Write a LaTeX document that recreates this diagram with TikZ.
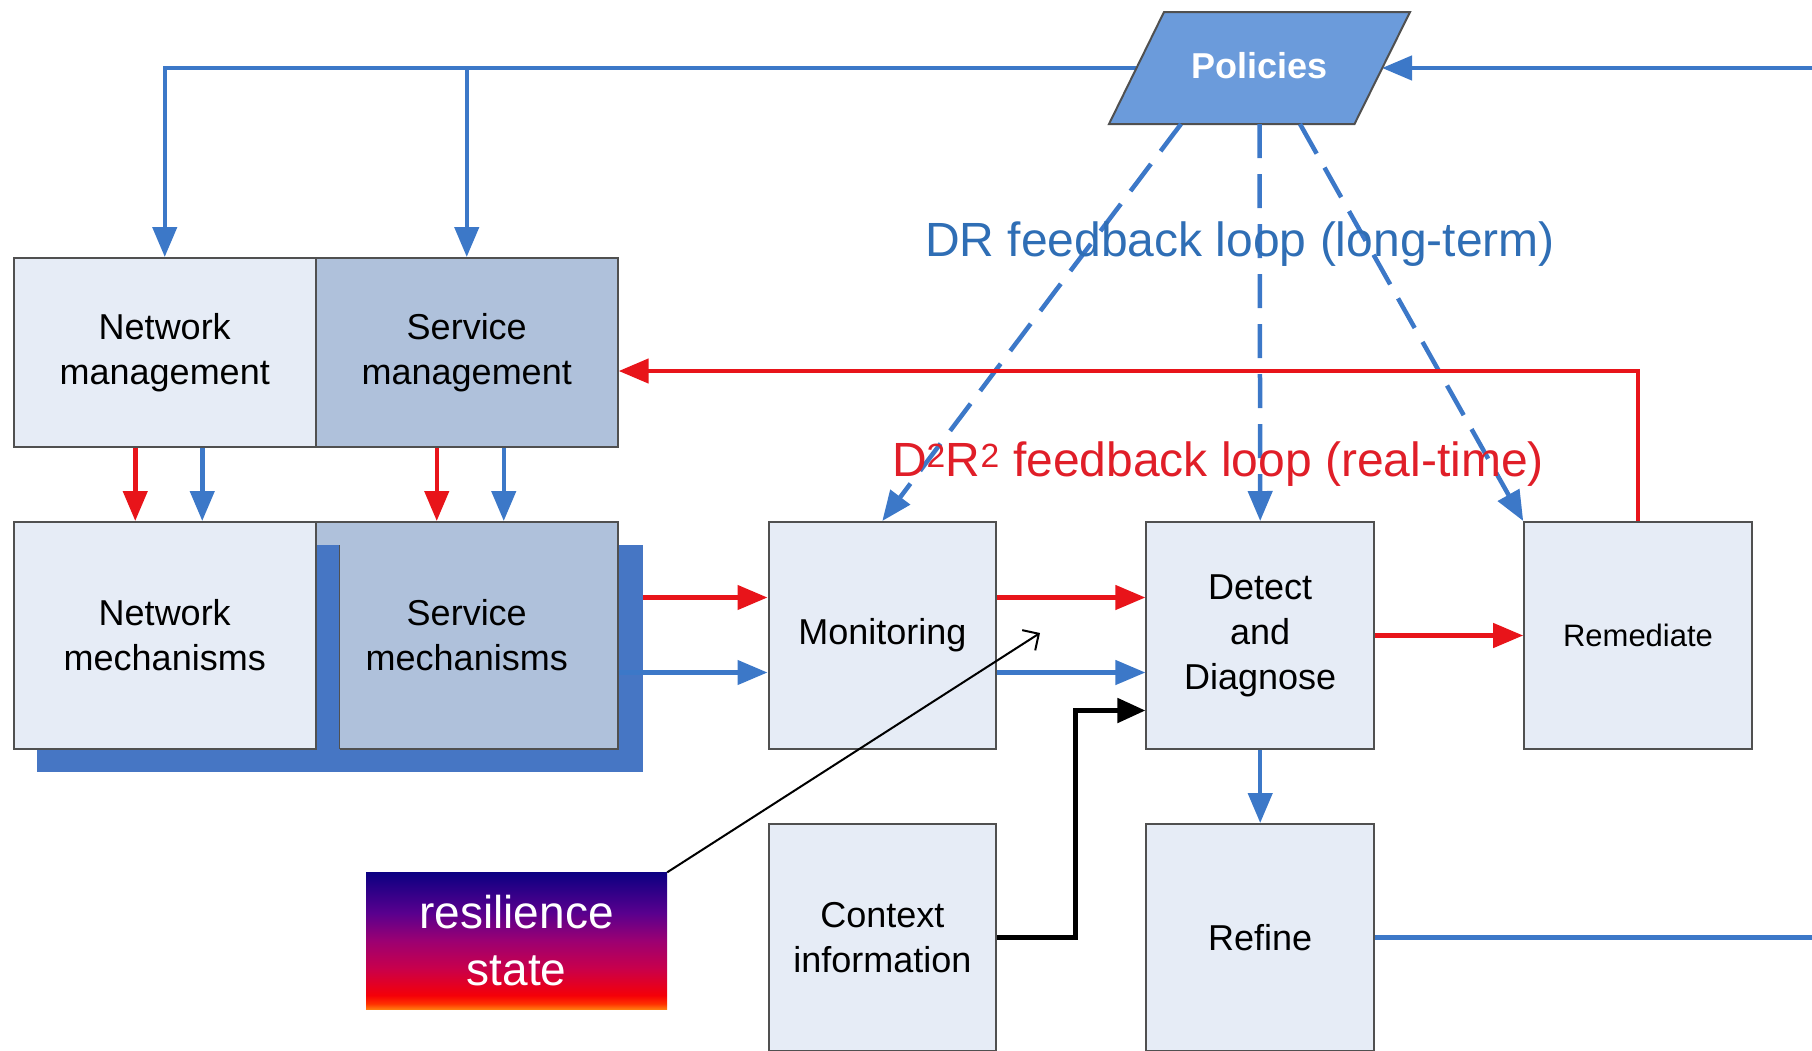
\documentclass[tikz,border=0pt]{standalone}
\usepackage{fontspec}
\setmainfont{Liberation Sans}
\usetikzlibrary{arrows.meta,calc}

\definecolor{boxfill}{HTML}{E6ECF6}
\definecolor{steel}{HTML}{AFC1DB}
\definecolor{shadowblue}{HTML}{4676C4}
\definecolor{polfill}{HTML}{6B9BDB}
\definecolor{flowblue}{HTML}{3C78C8}
\definecolor{flowred}{HTML}{E8141A}
\definecolor{edgegray}{HTML}{505050}
\definecolor{drtext}{HTML}{2F6EB5}
\definecolor{rttext}{HTML}{E01E28}

% colours of the resilience-state gradient, bottom to top
\definecolor{gOrange}{HTML}{FF7A10}
\definecolor{gRedA}{HTML}{FF3000}
\definecolor{gRed}{HTML}{F50008}
\definecolor{gCrimson}{HTML}{C8004C}
\definecolor{gMagenta}{HTML}{9C0072}
\definecolor{gPurple}{HTML}{5A008E}
\definecolor{gNavy}{HTML}{0C0082}
\pgfdeclareverticalshading{resgrad}{100bp}{color(0bp)=(gOrange); color(25bp)=(gOrange); color(27bp)=(gRedA); color(30bp)=(gRed); color(40bp)=(gCrimson); color(50bp)=(gMagenta); color(60bp)=(gPurple); color(75bp)=(gNavy); color(100bp)=(gNavy)}

\tikzset{
  box/.style={draw=edgegray, line width=2pt, fill=boxfill, inner sep=0pt,
    align=center, font=\fontsize{36}{45}\selectfont,
    minimum width=227.6pt, minimum height=227pt},
  mgmtbox/.style={box, minimum width=301.8pt, minimum height=189pt},
  bluearrow/.style={draw=flowblue, line width=4.5pt, -{Triangle[length=30pt,width=24pt]}},
  redarrow/.style={draw=flowred, line width=4.5pt, -{Triangle[length=30pt,width=24pt]}},
  blueline/.style={draw=flowblue, line width=4.5pt},
  dashedarrow/.style={bluearrow, dash pattern=on 34pt off 16pt},
  blackarrow/.style={draw=black, line width=5pt, -{Triangle[length=28pt,width=24pt]}},
  pointer/.style={draw=black, line width=2pt, -{Straight Barb[length=12pt,width=24pt]}},
  looplabel/.style={font=\fontsize{48}{58}\selectfont, inner sep=0pt},
}

\begin{document}
\begin{tikzpicture}[x=1pt,y=-1pt]
\useasboundingbox (0,0) rectangle (1812,1050);

% management layer
\node[mgmtbox] (nm) at (164.75,352.5) {Network\\management};
\node[mgmtbox, fill=steel] (sm) at (466.75,352.5) {Service\\management};

% mechanisms layer with its blue backdrop
\node[fill=shadowblue, inner sep=0pt, minimum width=605.5pt, minimum height=226.6pt] (shd) at (339.75,658.7) {};
\node[mgmtbox, fill=steel, minimum height=227pt] (smech) at (466.75,635.5) {Service\\mechanisms};
\fill[shadowblue] (316.5,545.4) rectangle (339.7,751);
\draw[edgegray, line width=1.5pt] (339.7,545.4) -- (339.7,749);
\node[mgmtbox, minimum height=227pt] (nmech) at (164.75,635.5) {Network\\mechanisms};

% D2R2 stages
\node[box] (mon) at (882.3,635.5) {Monitoring};
\node[box] (det) at (1260.2,635.5) {Detect\\and\\Diagnose};
\node[box, font=\fontsize{31}{37}\selectfont] (rem) at (1638,635.5) {Remediate};
\node[box] (ctx) at (882.3,937.5) {Context\\information};
\node[box] (ref) at (1260.2,937.5) {Refine};

% resilience state label
\node[shading=resgrad, inner sep=0pt, minimum width=301pt, minimum height=136.5pt,
  align=center, text=white, font=\fontsize{46}{57}\selectfont] (res) at (516.5,940.75) {resilience\\state};

% policies parallelogram
\coordinate (polL) at (1136.5,68);
\coordinate (polR) at (1382,68);
\coordinate (polB1) at (1181,124);
\coordinate (polB2) at (1259.6,124);
\coordinate (polB3) at (1300,124);
\coordinate (edgeTop) at (1812,68);
\coordinate (edgeBottom) at (1812,937.5);

% long-term policy loop
\draw[bluearrow] (polL) -| (nm.north);
\draw[bluearrow] (sm.north |- polL) -- (sm.north);
\draw[bluearrow] (edgeTop) -- (polR);
\draw[blueline] (ref.east) -- (edgeBottom);

\fill[polfill] (1164,12) -- (1410,12) -- (1354.5,124) -- (1109,124) -- cycle;
\draw[edgegray, line width=2pt] (1164,12) -- (1410,12) -- (1354.5,124) -- (1109,124) -- cycle;
\node[text=white, font=\bfseries\fontsize{36}{43}\selectfont] (pol) at (1259.6,66) {Policies};

\draw[dashedarrow] (polB1) -- (mon.north);
\draw[dashedarrow] (polB2) -- (det.north);
\draw[dashedarrow] (polB3) -- (rem.north west);

% management to mechanisms
\draw[redarrow] ([xshift=-29.5pt]nm.south) -- ([xshift=-29.5pt]nmech.north);
\draw[bluearrow] ([xshift=37.5pt]nm.south) -- ([xshift=37.5pt]nmech.north);
\draw[redarrow] ([xshift=-30pt]sm.south) -- ([xshift=-30pt]smech.north);
\draw[bluearrow] ([xshift=37pt]sm.south) -- ([xshift=37pt]smech.north);

% real-time loop
\coordinate (monRed) at ([yshift=38pt]mon.west);
\coordinate (monBlue) at ([yshift=-37pt]mon.west);
\draw[redarrow] (shd.east |- monRed) -- (monRed);
\draw[bluearrow] (smech.east |- monBlue) -- (monBlue);
\draw[redarrow] ([yshift=38pt]mon.east) -- ([yshift=38pt]det.west);
\draw[bluearrow] ([yshift=-37pt]mon.east) -- ([yshift=-37pt]det.west);
\draw[redarrow] (det.east) -- (rem.west);
\draw[redarrow] (rem.north) |- ([yshift=-18.5pt]sm.east);
\draw[bluearrow] (det.south) -- (ref.north);
\draw[blackarrow] (ctx.east) -- ++(78.6,0) |- ([yshift=-75pt]det.west);

% loop captions
\node[looplabel, text=drtext] (drlabel) at (1240,244) {DR feedback loop (long-term)};
\node[looplabel, text=rttext] (rtlabel) at (1218,464) {D\textsuperscript{2}R\textsuperscript{2} feedback loop (real-time)};

% pointer from the resilience state
\coordinate (stateTip) at (1040,633);
\draw[pointer] (res.north east) -- (stateTip);
\end{tikzpicture}
\end{document}
